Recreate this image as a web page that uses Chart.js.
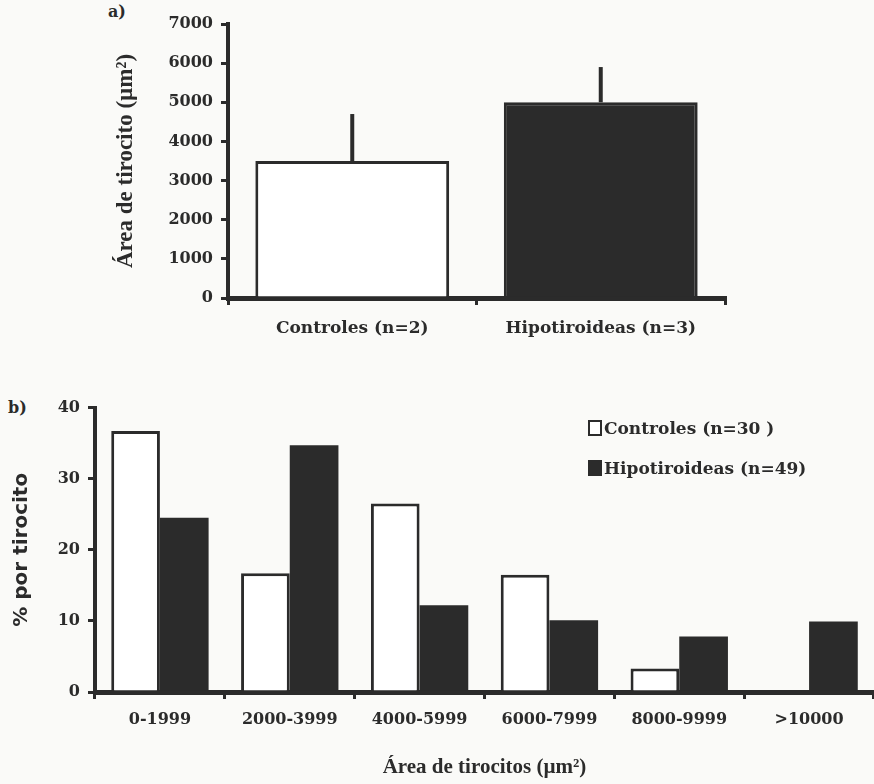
<!DOCTYPE html>
<html lang="es">
  <head>
    <meta charset="UTF-8" />
    <title>Área de tirocitos</title>
    <script src="https://cdn.jsdelivr.net/npm/chart.js"></script>
    <style>
      body { margin: 0; background: #fafaf8; width: 874px; height: 784px; position: relative; overflow: hidden; font-family: "DejaVu Serif", serif; color: #2b2b2b; }
      .box { position: absolute; }
      .tag { position: absolute; font-weight: bold; font-size: 16px; }
      .legend { position: absolute; left: 588px; top: 408px; font-weight: bold; font-size: 17px; }
      .legend div { height: 40px; display: flex; align-items: center; }
      .sw { width: 10px; height: 12px; border: 2px solid #2b2b2b; margin-right: 2px; }
    </style>
  </head>
  <body>
    <div class="tag" style="left:108px; top:2px;">a)</div>
    <div class="box" style="left:100px; top:0px; width:640px; height:345px;">
      <canvas id="chartA"></canvas>
    </div>

    <div class="tag" style="left:8px; top:398px;">b)</div>
    <div class="box" style="left:0px; top:390px; width:874px; height:394px;">
      <canvas id="chartB"></canvas>
    </div>
    <div class="legend">
      <div><span class="sw" style="background:#fff"></span>Controles (n=30 )</div>
      <div><span class="sw" style="background:#2b2b2b"></span>Hipotiroideas (n=49)</div>
    </div>

    <script>
      // a) mean area per group
      const groupsA = ["Controles (n=2)", "Hipotiroideas (n=3)"];
      const meanA = [3500, 5000];
      const errA = [1200, 900];
      const ticksA = [0, 1000, 2000, 3000, 4000, 5000, 6000, 7000];

      // b) distribution by area range
      const rangesB = ["0-1999", "2000-3999", "4000-5999", "6000-7999", "8000-9999", ">10000"];
      const controlesB = [36.7, 16.7, 26.5, 16.5, 3.3, 0];
      const hipoB = [24.5, 34.7, 12.2, 10.1, 7.8, 9.9];

      const ink = "#2b2b2b";
      const tickFont = { family: "DejaVu Serif", weight: "bold", size: 16 };

      // draw the upward error line of each bar
      const errorBars = {
        id: "errorBars",
        afterDatasetsDraw(chart) {
          const ctx = chart.ctx;
          const y = chart.scales.y;
          chart.getDatasetMeta(0).data.forEach((bar, i) => {
            const top = y.getPixelForValue(meanA[i] + errA[i]);
            ctx.save();
            ctx.strokeStyle = ink;
            ctx.lineWidth = 4;
            ctx.beginPath();
            ctx.moveTo(bar.x, bar.y);
            ctx.lineTo(bar.x, top);
            ctx.stroke();
            ctx.restore();
          });
        },
      };

      function axisGrid() {
        return { drawOnChartArea: false, drawTicks: true, tickLength: 7, lineWidth: 3, color: ink };
      }

      new Chart(document.getElementById("chartA"), {
        type: "bar",
        data: {
          labels: groupsA,
          datasets: [
            {
              data: meanA,
              backgroundColor: ["#ffffff", ink],
              borderColor: ink,
              borderWidth: 3,
              barPercentage: 0.78,
              categoryPercentage: 1,
            },
          ],
        },
        options: {
          responsive: true,
          maintainAspectRatio: false,
          animation: false,
          layout: { padding: { top: 24, right: 15 } },
          plugins: { legend: { display: false }, tooltip: { enabled: false } },
          scales: {
            x: {
              border: { width: 5, color: ink },
              grid: axisGrid(),
              ticks: { color: ink, font: { family: "DejaVu Serif", weight: "bold", size: 17 }, padding: 13 },
              afterFit: (s) => { s.height = 47; },
            },
            y: {
              min: 0,
              max: 7000,
              afterBuildTicks: (s) => { s.ticks = ticksA.map((v) => ({ value: v })); },
              border: { width: 4, color: ink },
              grid: axisGrid(),
              ticks: { color: ink, font: tickFont, padding: 8, callback: (v) => String(v) },
              title: {
                display: true,
                text: "Área de tirocito (µm²)",
                color: ink,
                font: { family: "Liberation Serif", weight: "bold", size: 23 },
                padding: { top: 12, bottom: 4 },
              },
              afterFit: (s) => { s.width = 128; },
            },
          },
        },
        plugins: [errorBars],
      });

      new Chart(document.getElementById("chartB"), {
        type: "bar",
        data: {
          labels: rangesB,
          datasets: [
            {
              label: "Controles (n=30 )",
              data: controlesB,
              backgroundColor: "#ffffff",
              borderColor: ink,
              borderWidth: 3,
            },
            {
              label: "Hipotiroideas (n=49)",
              data: hipoB,
              backgroundColor: ink,
              borderColor: ink,
              borderWidth: 0,
            },
          ],
        },
        options: {
          responsive: true,
          maintainAspectRatio: false,
          animation: false,
          datasets: { bar: { barPercentage: 1, categoryPercentage: 0.75 } },
          layout: { padding: { top: 15, right: 0 } },
          plugins: { legend: { display: false }, tooltip: { enabled: false } },
          scales: {
            x: {
              border: { width: 5, color: ink },
              grid: axisGrid(),
              ticks: { color: ink, font: tickFont, padding: 11 },
              title: {
                display: true,
                text: "Área de tirocitos (µm²)",
                color: ink,
                font: { family: "Liberation Serif", weight: "bold", size: 21 },
                padding: { top: 24 },
              },
              afterFit: (s) => { s.height = 92; },
            },
            y: {
              min: 0,
              max: 40,
              ticks: { stepSize: 10, color: ink, font: tickFont, padding: 8 },
              border: { width: 4, color: ink },
              grid: axisGrid(),
              title: {
                display: true,
                text: "% por tirocito",
                color: ink,
                font: { family: "DejaVu Sans", weight: "bold", size: 20 },
                padding: { top: 10, bottom: 4 },
              },
              afterFit: (s) => { s.width = 95; },
            },
          },
        },
      });
    </script>
  </body>
</html>
